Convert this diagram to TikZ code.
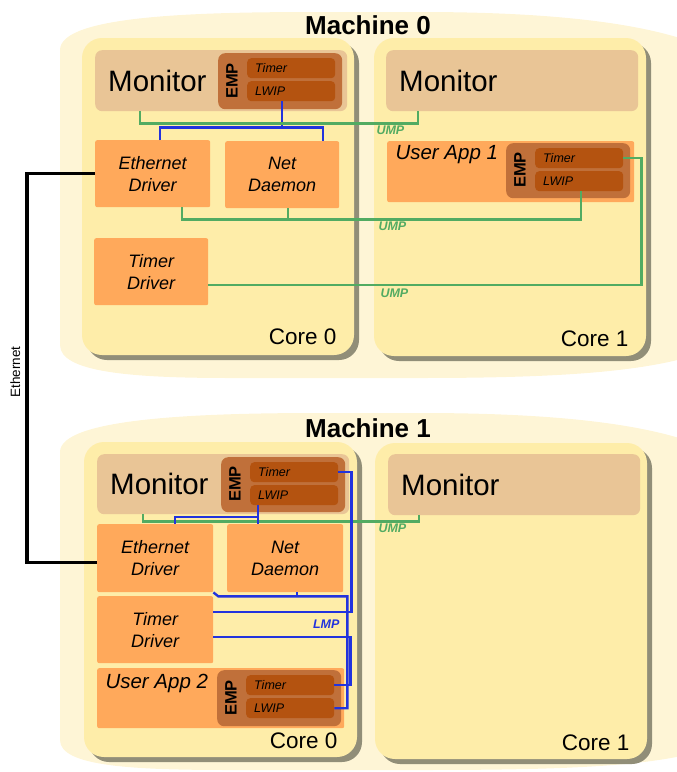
\documentclass[tikz,border=0pt]{standalone}
\usepackage{fontspec}
\setmainfont{Liberation Sans}
\usepackage{tikz}
\definecolor{machinecol}{HTML}{FEF5D6}
\definecolor{corecol}{HTML}{FEEDA9}
\definecolor{shadecol}{HTML}{918E78}
\definecolor{moncol}{HTML}{E9C596}
\definecolor{proccol}{HTML}{FFA95B}
\definecolor{empcol}{HTML}{C0703A}
\definecolor{slotcol}{HTML}{B45310}
\definecolor{umpcol}{HTML}{52AB62}
\definecolor{lmpcol}{HTML}{2233DD}

\begin{document}
\begin{tikzpicture}[x=1pt, y=-1pt,
    machine/.style={fill=machinecol},
    core/.style={fill=corecol, rounded corners=20pt},
    coreshade/.style={fill=shadecol, rounded corners=20pt},
    monitor/.style={fill=moncol, rounded corners=7pt, anchor=north west, text width=226pt, inner xsep=13pt, minimum height=61pt, align=left, font=\fontsize{29.5}{32}\selectfont},
    proc/.style={fill=proccol, rounded corners=2pt, anchor=north west, minimum width=115pt, minimum height=67pt, inner sep=0pt, align=center, font=\fontsize{18}{22}\selectfont\itshape},
    app/.style={fill=proccol, rounded corners=2pt, anchor=north west, minimum width=247pt, minimum height=61pt, inner sep=0pt},
    applabel/.style={anchor=west, font=\fontsize{20.5}{24}\selectfont\itshape},
    emp/.style={fill=empcol, rounded corners=7pt, anchor=north west, minimum width=124pt, minimum height=56pt, inner sep=0pt},
    emplabel/.style={rotate=90, font=\fontsize{16.5}{18}\selectfont\bfseries},
    slot/.style={fill=slotcol, rounded corners=4pt, anchor=north west, text width=72pt, inner xsep=8pt, inner ysep=0pt, minimum height=20pt, align=left, font=\fontsize{12.5}{14}\selectfont\itshape},
    corelabel/.style={anchor=east, font=\fontsize{22.5}{26}\selectfont},
    machinetitle/.style={font=\fontsize{26}{30}\selectfont\bfseries},
    ump/.style={draw=umpcol, line width=2.4pt},
    lmp/.style={draw=lmpcol, line width=2.4pt},
    chan/.style={anchor=west, font=\fontsize{12.5}{14}\selectfont\bfseries\itshape},
    ethcable/.style={draw=black, line width=3.4pt}
]
\useasboundingbox (0,0) rectangle (677,772);

% machine backgrounds
\begin{scope}
    \clip (0,0) rectangle (677,772);
    \fill[machine] (60,345) -- (60,50) .. controls (60,15) and (200,12) .. (320,12) -- (420,12) .. controls (580,12) and (680,28) .. (730,60) -- (730,340) .. controls (680,370) and (580,378) .. (420,378) -- (230,378) .. controls (130,378) and (60,372) .. (60,345) -- cycle;
    \fill[machine] (60,740) -- (60,452) .. controls (60,418) and (200,413) .. (320,413) -- (420,413) .. controls (580,413) and (680,428) .. (730,460) -- (730,740) .. controls (680,766) and (580,770) .. (420,770) -- (230,770) .. controls (130,770) and (60,766) .. (60,740) -- cycle;
\end{scope}
\node[machinetitle] (title0) at (368,25) {Machine 0};
\node[machinetitle] (title1) at (368,428) {Machine 1};

% cores
\fill[coreshade] (87,43) rectangle (359,360);
\fill[core] (82,38) rectangle (354,355);
\fill[coreshade] (379,43) rectangle (651,361);
\fill[core] (374,38) rectangle (646,356);
\fill[coreshade] (89,447) rectangle (362,762);
\fill[core] (84,442) rectangle (357,757);
\fill[coreshade] (380,448) rectangle (652,764);
\fill[core] (375,443) rectangle (647,759);
\node[corelabel] (core00) at (340,337) {Core 0};
\node[corelabel] (core01) at (632,339) {Core 1};
\node[corelabel] (core10) at (341,741) {Core 0};
\node[corelabel] (core11) at (633,743) {Core 1};

% machine 0, core 0
\node[monitor] (mon00) at (95,50) {Monitor};
\node[emp] (emp00) at (218,53) {};
\node[emplabel] (emplab00) at (232,81) {EMP};
\node[slot] (timer00) at (247,58) {Timer};
\node[slot] (lwip00) at (247,81) {LWIP};
\node[proc] (eth0) at (95,140) {Ethernet\\Driver};
\node[proc, minimum width=114pt] (net0) at (225,141) {Net\\Daemon};
\node[proc, minimum width=114pt] (tdrv0) at (94,238) {Timer\\Driver};

% machine 0, core 1
\node[monitor] (mon01) at (386,50) {Monitor};
\node[app] (ua1) at (387,141) {};
\node[applabel] (ua1lab) at (392,155) {User App 1};
\node[emp, minimum height=55pt] (emp01) at (506,143) {};
\node[emplabel] (emplab01) at (520,170) {EMP};
\node[slot] (timer01) at (535,148) {Timer};
\node[slot] (lwip01) at (535,171) {LWIP};

% machine 1, core 0
\node[monitor, minimum height=60pt] (mon10) at (97,454) {Monitor};
\node[emp, minimum height=55pt] (emp10) at (221,457) {};
\node[emplabel] (emplab10) at (235,484) {EMP};
\node[slot] (timer10) at (250,462) {Timer};
\node[slot] (lwip10) at (250,485) {LWIP};
\node[proc, minimum width=116pt, minimum height=68pt] (eth1) at (97,524) {Ethernet\\Driver};
\node[proc, minimum width=116pt, minimum height=68pt] (net1) at (227,524) {Net\\Daemon};
\node[proc, minimum width=116pt] (tdrv1) at (97,596) {Timer\\Driver};
\node[app, minimum height=60pt] (ua2) at (97,668) {};
\node[applabel] (ua2lab) at (102,683) {User App 2};
\node[emp] (emp12) at (217,670) {};
\node[emplabel] (emplab12) at (231,698) {EMP};
\node[slot] (timer12) at (246,675) {Timer};
\node[slot] (lwip12) at (246,698) {LWIP};

% machine 1, core 1
\node[monitor] (mon11) at (388,454) {Monitor};

% machine 0 channels
\draw[lmp] ([xshift=-9pt]lwip00.south) -- ++(0,26) coordinate (bus00);
\draw[lmp] ([xshift=7.5pt]eth0.north) |- (bus00) -| ([xshift=41pt]net0.north);
\draw[ump] ([xshift=-81pt]mon00.south) -- ++(0,12) -| ([xshift=-94.5pt]mon01.south);
\draw[ump] ([xshift=29.5pt]eth0.south) -- ++(0,12) -| ([xshift=1.5pt]lwip01.south);
\draw[ump] ([xshift=6pt]net0.south) -- ++(0,11);
\draw[ump] (timer01.east) -- ++(18,0) |- ([yshift=-13.5pt]tdrv0.east);
\node[chan, umpcol] (ump00) at (373,130) {UMP};
\node[chan, umpcol] (ump01) at (375,226) {UMP};
\node[chan, umpcol] (ump02) at (377,293) {UMP};

% machine 1 channels
\draw[ump] ([xshift=-80.5pt]mon10.south) -- ++(0,7) -| ([xshift=-95pt]mon11.south);
\node[chan, umpcol] (ump10) at (375,528) {UMP};
\draw[lmp] ([xshift=-36pt]lwip10.south) -- ++(0,19);
\draw[lmp] ([xshift=20pt]eth1.north) -- ++(0,-7) -| ([xshift=-36pt]lwip10.south);
\draw[lmp] (timer10.east) -- ++(13,0) |- ([yshift=17.5pt]tdrv1.east);
\draw[lmp] (eth1.south east) -- ++(5,4) -- ++(129,0) |- (lwip12.east);
\draw[lmp] ([xshift=12pt]net1.south) -- ++(0,4);
\draw[lmp] ([yshift=-7.5pt]tdrv1.east) -- ++(137,0) |- (timer12.east);
\node[chan, lmpcol, anchor=east] (lmp10) at (343,624) {LMP};

% network
\draw[ethcable] (eth0.west) -- ++(-68,0) |- node[pos=0.25, yshift=-4pt, rotate=90, anchor=south, inner sep=5pt, font=\fontsize{13.5}{15}\selectfont] (ethlab) {Ethernet} ([yshift=-4pt]eth1.west);
\end{tikzpicture}
\end{document}
